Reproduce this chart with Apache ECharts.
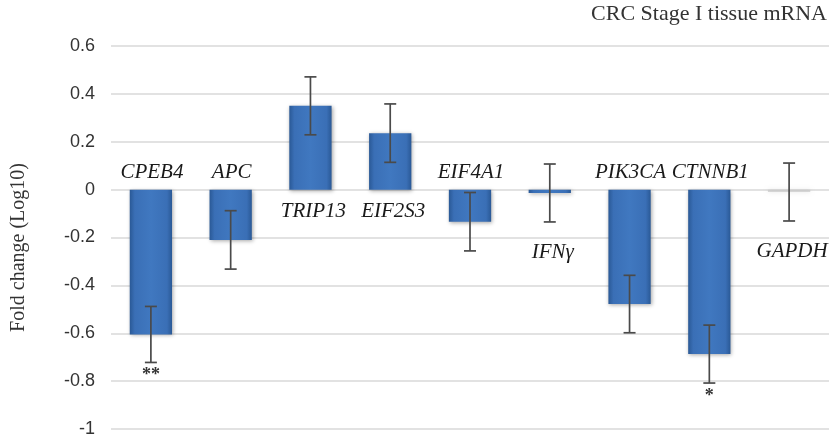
<!DOCTYPE html>
<html>
<head>
<meta charset="utf-8">
<script src="https://cdn.jsdelivr.net/npm/echarts@6/dist/echarts.min.js"></script>
<style>html,body{margin:0;padding:0;background:#fff;}#chart{width:832px;height:442px;}</style>
</head>
<body>
<div id="chart"></div>
<script>
const categories = ['CPEB4', 'APC', 'TRIP13', 'EIF2S3', 'EIF4A1', 'IFNγ', 'PIK3CA', 'CTNNB1', 'GAPDH'];
const foldChange = [-0.605, -0.21, 0.35, 0.236, -0.134, -0.014, -0.478, -0.687, -0.01];
const errorSize  = [0.117, 0.122, 0.121, 0.122, 0.122, 0.121, 0.12, 0.121, 0.121];
const significance = ['**', '', '', '', '', '', '', '*', ''];
const yMin = -1, yMax = 0.6, yStep = 0.2;
const chartTitle = 'CRC Stage I tissue mRNA';
const yTitle = 'Fold change (Log10)';

const chart = echarts.init(document.getElementById('chart'));

const blueGrad = new echarts.graphic.LinearGradient(0, 0, 1, 0, [
  { offset: 0, color: '#2a5996' },
  { offset: 0.12, color: '#3a6fb6' },
  { offset: 0.5, color: '#4078c0' },
  { offset: 0.88, color: '#3a6fb6' },
  { offset: 1, color: '#2a5996' }
]);

const barData = foldChange.map((v, i) => ({
  value: v,
  itemStyle: categories[i] === 'GAPDH'
    ? { color: 'rgba(200,200,200,0.7)', shadowBlur: 4, shadowColor: 'rgba(0,0,0,0.15)' }
    : { color: blueGrad, shadowBlur: 4, shadowColor: 'rgba(0,0,0,0.35)', shadowOffsetX: 1, shadowOffsetY: 1 }
}));

const errData = foldChange.map((v, i) => [i, v - errorSize[i], v + errorSize[i]]);

chart.setOption({
  animation: false,
  backgroundColor: '#fff',
  grid: { left: 111, right: 3, top: 46, bottom: 13, containLabel: false },
  xAxis: {
    type: 'category',
    data: categories,
    axisLine: { show: false },
    axisTick: { show: false },
    axisLabel: { show: false },
    splitLine: { show: false }
  },
  yAxis: {
    type: 'value',
    min: yMin, max: yMax, interval: yStep,
    axisLine: { show: false },
    axisTick: { show: false },
    splitLine: { lineStyle: { color: '#d9d9d9', width: 1.5 } },
    axisLabel: {
      margin: 16,
      fontFamily: 'Liberation Sans',
      fontSize: 18,
      color: '#333',
      formatter: v => String(+v.toFixed(1))
    },
    name: yTitle,
    nameLocation: 'middle',
    nameGap: 82,
    nameRotate: 90,
    nameTextStyle: { fontFamily: 'Liberation Serif', fontSize: 20, color: '#333', padding: [0, 20, 0, 0] }
  },
  graphic: [{
    type: 'text',
    right: 5,
    top: 3,
    style: { text: chartTitle, font: '22px "Liberation Serif"', fill: '#333' }
  }],
  series: [
    {
      type: 'bar',
      data: barData,
      barWidth: '53%',
      z: 2
    },
    {
      type: 'custom',
      data: errData,
      z: 5,
      renderItem: function (params, api) {
        const x = api.value(0);
        const lo = api.coord([x, api.value(1)]);
        const hi = api.coord([x, api.value(2)]);
        const cap = 6;
        const st = { stroke: '#4a4a4a', lineWidth: 1.7 };
        return {
          type: 'group',
          children: [
            { type: 'line', shape: { x1: lo[0], y1: lo[1], x2: hi[0], y2: hi[1] }, style: st },
            { type: 'line', shape: { x1: lo[0] - cap, y1: lo[1], x2: lo[0] + cap, y2: lo[1] }, style: st },
            { type: 'line', shape: { x1: hi[0] - cap, y1: hi[1], x2: hi[0] + cap, y2: hi[1] }, style: st }
          ]
        };
      }
    },
    {
      type: 'custom',
      data: foldChange.map((v, i) => [i, v]),
      z: 6,
      silent: true,
      renderItem: function (params, api) {
        const i = params.dataIndex;
        const v = foldChange[i];
        const e = errorSize[i];
        const children = [];
        let pos;
        if (v < -0.05) {
          const p = api.coord([i, 0]);
          pos = [p[0] + 1, p[1] - 17];
        } else {
          const low = Math.min(0, v - e);
          const p = api.coord([i, low]);
          pos = [p[0] + 3, p[1] + (low === 0 ? 22 : 31)];
        }
        children.push({
          type: 'text',
          x: pos[0], y: pos[1],
          style: {
            text: categories[i],
            font: 'italic 21px "Liberation Serif"',
            fill: '#1a1a1a',
            align: 'center',
            verticalAlign: 'middle'
          }
        });
        if (significance[i]) {
          const q = api.coord([i, v - e]);
          children.push({
            type: 'text',
            x: q[0], y: q[1] + 4,
            style: {
              text: significance[i],
              font: 'bold 18px "Liberation Serif"',
              fill: '#333',
              align: 'center',
              verticalAlign: 'top'
            }
          });
        }
        return { type: 'group', children: children };
      }
    }
  ]
});
</script>
</body>
</html>
